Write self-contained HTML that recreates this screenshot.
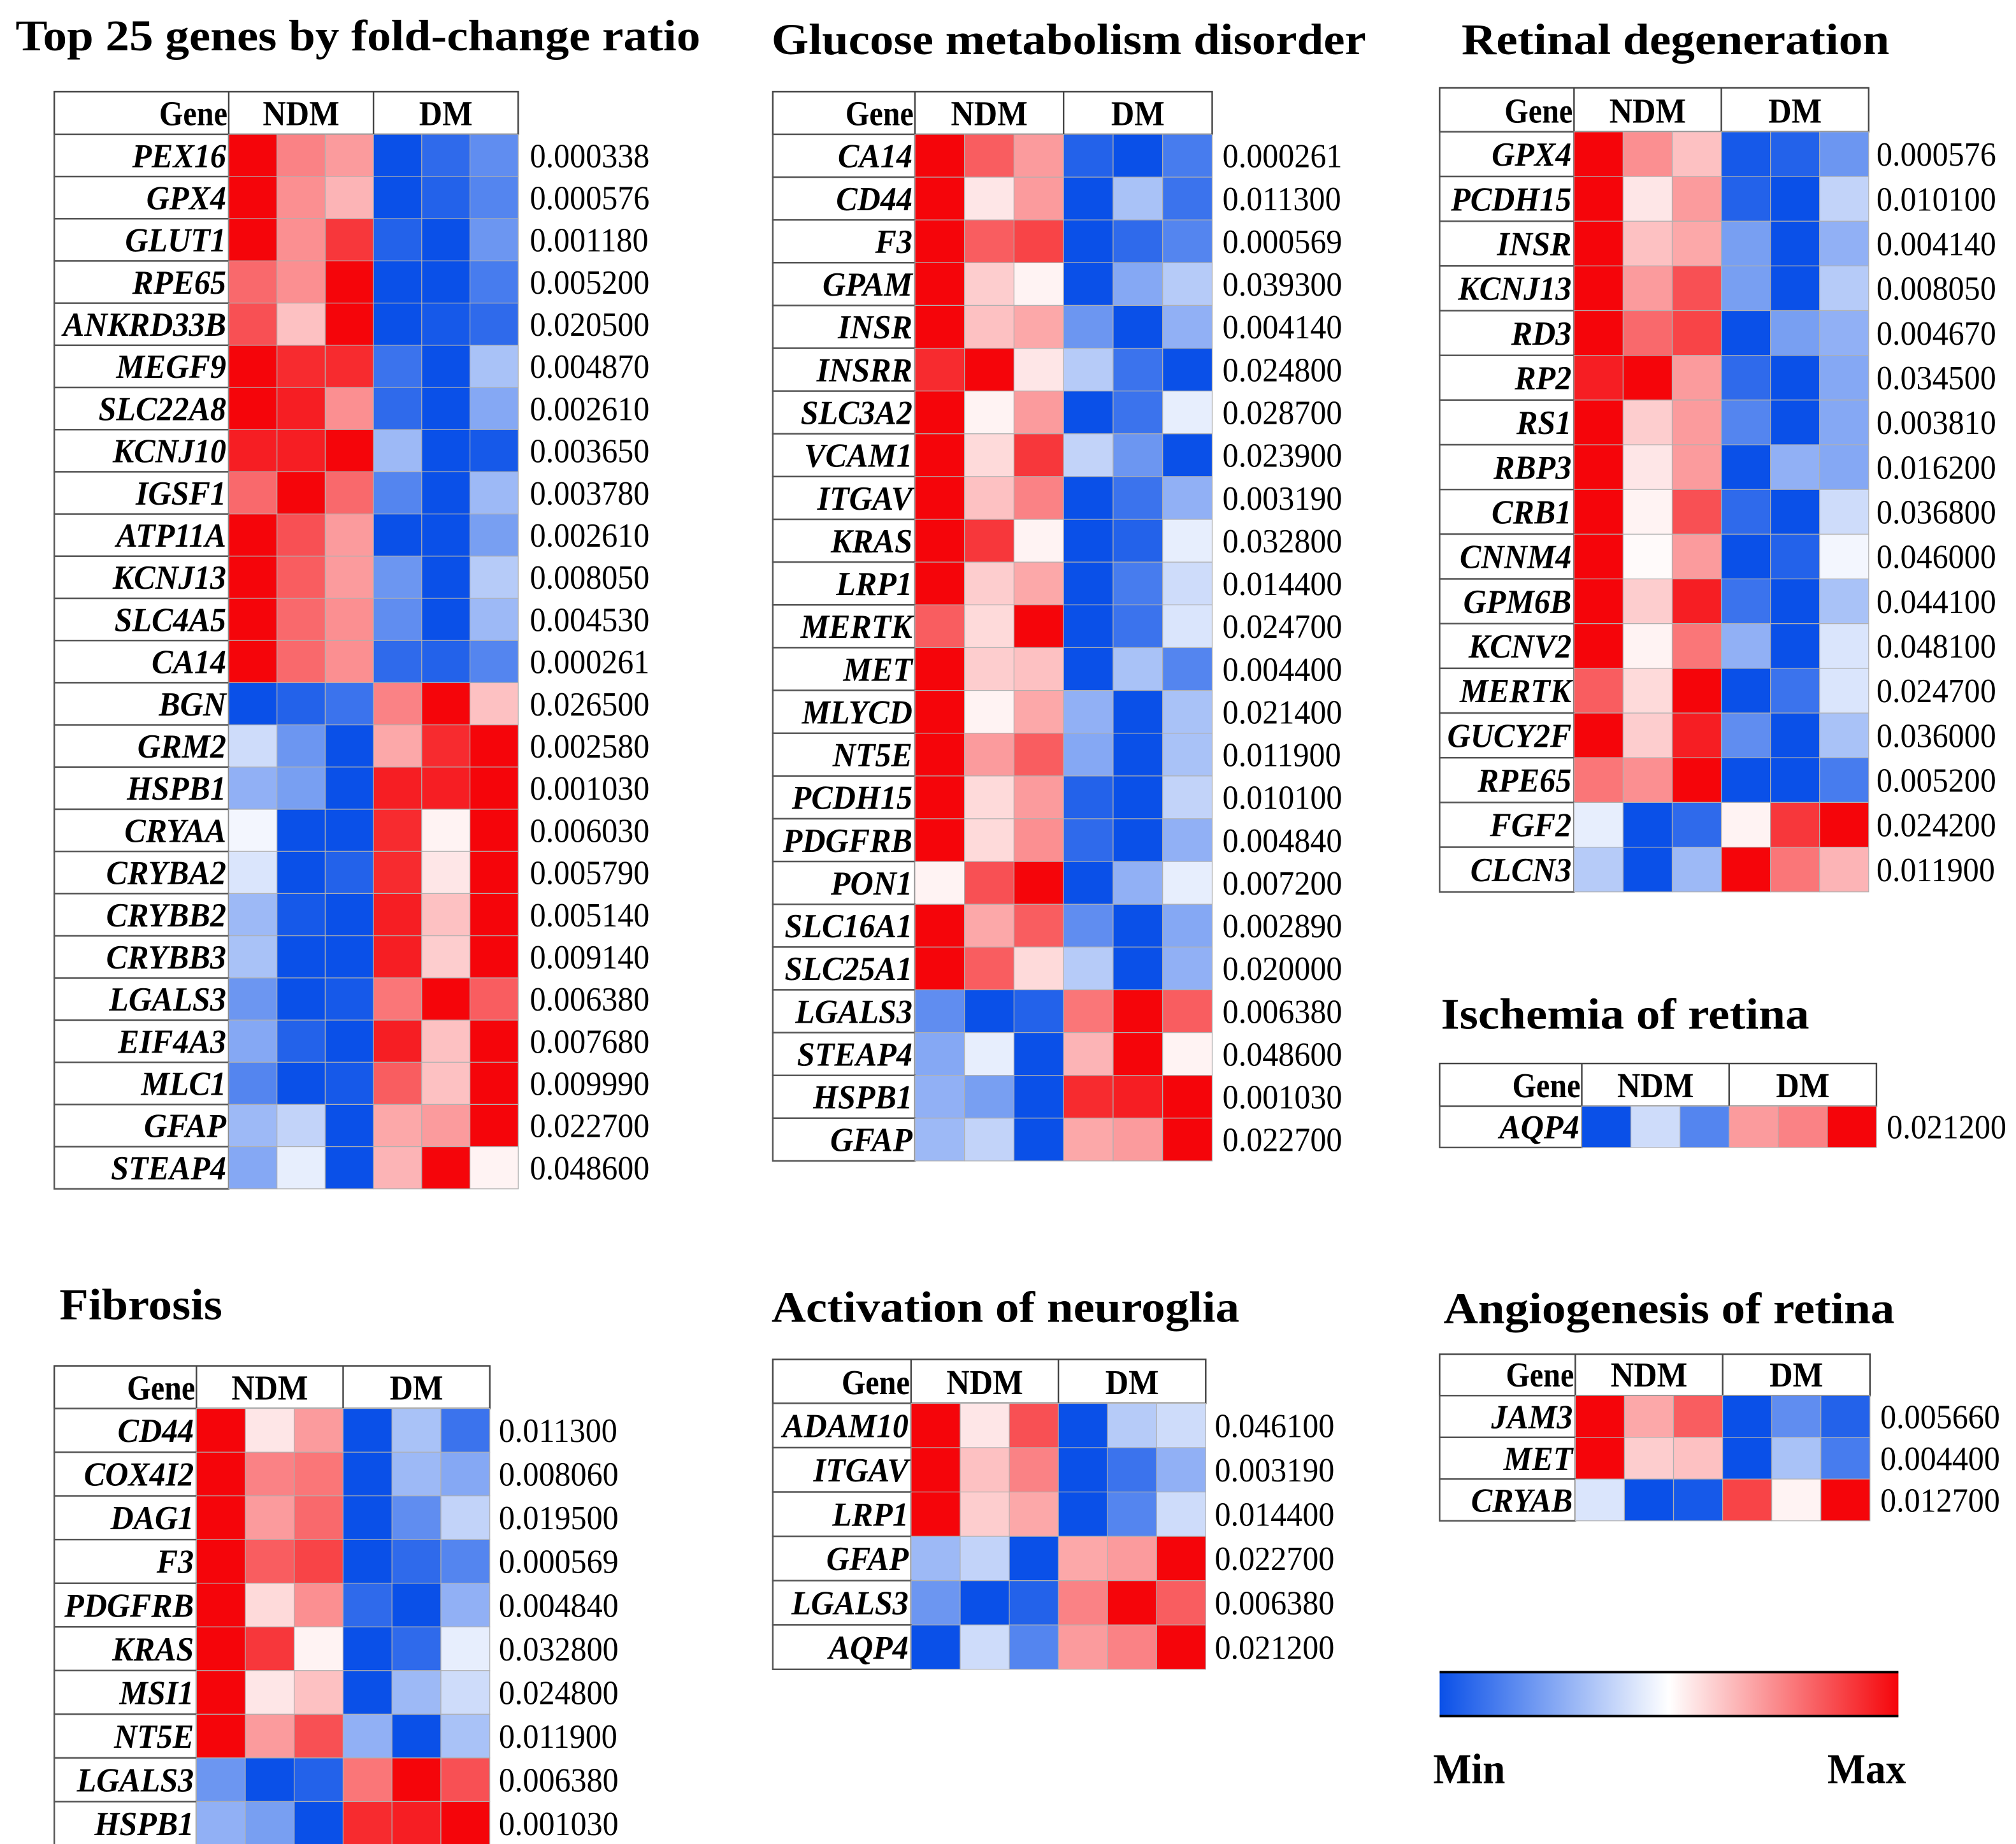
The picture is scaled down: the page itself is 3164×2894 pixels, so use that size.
<!DOCTYPE html>
<html><head><meta charset="utf-8">
<style>html,body{margin:0;padding:0;background:#fff;}svg{display:block;}</style>
</head><body>
<svg id="chart" xmlns="http://www.w3.org/2000/svg" width="3164" height="2894" viewBox="0 0 1560 1427" preserveAspectRatio="none">
<defs><linearGradient id="cb" x1="0" x2="1" y1="0" y2="0"><stop offset="0" stop-color="#0a50e8"/><stop offset="0.5" stop-color="#ffffff"/><stop offset="1" stop-color="#f5050a"/></linearGradient></defs>
</svg>
<script>
const genes1=["PEX16","GPX4","GLUT1","RPE65","ANKRD33B","MEGF9","SLC22A8","KCNJ10","IGSF1","ATP11A","KCNJ13","SLC4A5","CA14","BGN","GRM2","HSPB1","CRYAA","CRYBA2","CRYBB2","CRYBB3","LGALS3","EIF4A3","MLC1","GFAP","STEAP4"];
const pvals1=["0.000338","0.000576","0.001180","0.005200","0.020500","0.004870","0.002610","0.003650","0.003780","0.002610","0.008050","0.004530","0.000261","0.026500","0.002580","0.001030","0.006030","0.005790","0.005140","0.009140","0.006380","0.007680","0.009990","0.022700","0.048600"];
const values1=[[1,.5,.4,-1,-.85,-.65],[1,.45,.3,-1,-.9,-.7],[1,.45,.8,-.9,-1,-.6],[.6,.45,1,-1,-1,-.75],[.7,.25,1,-1,-.95,-.85],[1,.85,.85,-.8,-1,-.35],[1,.9,.45,-.85,-1,-.5],[.9,.9,1,-.4,-1,-.95],[.6,1,.6,-.7,-1,-.4],[1,.7,.4,-1,-1,-.55],[1,.65,.4,-.6,-1,-.3],[1,.6,.45,-.65,-1,-.4],[1,.6,.45,-.85,-.9,-.7],[-1,-.9,-.8,.5,1,.25],[-.2,-.6,-1,.35,.85,1],[-.45,-.55,-1,.9,.9,1],[-.05,-1,-1,.85,.05,1],[-.15,-1,-.9,.85,.1,1],[-.4,-.95,-1,.9,.25,1],[-.35,-1,-1,.9,.2,1],[-.6,-1,-.95,.55,1,.65],[-.5,-.9,-1,.9,.25,1],[-.7,-1,-.95,.65,.25,1],[-.4,-.25,-1,.35,.4,1],[-.5,-.1,-1,.3,1,.05]];

const genes2=["CA14","CD44","F3","GPAM","INSR","INSRR","SLC3A2","VCAM1","ITGAV","KRAS","LRP1","MERTK","MET","MLYCD","NT5E","PCDH15","PDGFRB","PON1","SLC16A1","SLC25A1","LGALS3","STEAP4","HSPB1","GFAP"];
const pvals2=["0.000261","0.011300","0.000569","0.039300","0.004140","0.024800","0.028700","0.023900","0.003190","0.032800","0.014400","0.024700","0.004400","0.021400","0.011900","0.010100","0.004840","0.007200","0.002890","0.020000","0.006380","0.048600","0.001030","0.022700"];
const values2=[[1,.65,.4,-.9,-1,-.75],[1,.1,.4,-1,-.35,-.8],[1,.65,.75,-1,-.85,-.7],[1,.2,.05,-1,-.5,-.3],[1,.25,.35,-.6,-1,-.45],[.85,1,.1,-.3,-.8,-1],[1,.05,.4,-1,-.8,-.1],[1,.15,.8,-.25,-.6,-1],[1,.25,.5,-1,-.8,-.45],[1,.8,.05,-1,-.9,-.1],[1,.2,.35,-1,-.75,-.2],[.65,.15,1,-1,-.8,-.15],[1,.2,.25,-1,-.35,-.7],[1,.05,.35,-.45,-1,-.35],[1,.4,.65,-.5,-1,-.35],[1,.15,.4,-.9,-1,-.25],[1,.15,.45,-.85,-1,-.45],[.05,.7,1,-1,-.45,-.1],[1,.35,.65,-.65,-1,-.5],[1,.65,.15,-.3,-1,-.45],[-.65,-1,-.9,.55,1,.65],[-.5,-.1,-1,.3,1,.05],[-.45,-.55,-1,.85,.9,1],[-.4,-.25,-1,.35,.4,1]];

const genes3=["GPX4","PCDH15","INSR","KCNJ13","RD3","RP2","RS1","RBP3","CRB1","CNNM4","GPM6B","KCNV2","MERTK","GUCY2F","RPE65","FGF2","CLCN3"];
const pvals3=["0.000576","0.010100","0.004140","0.008050","0.004670","0.034500","0.003810","0.016200","0.036800","0.046000","0.044100","0.048100","0.024700","0.036000","0.005200","0.024200","0.011900"];
const values3=[[1,.45,.25,-.95,-.9,-.6],[1,.1,.4,-.9,-1,-.25],[1,.25,.35,-.55,-1,-.45],[1,.4,.7,-.55,-1,-.3],[1,.6,.75,-1,-.55,-.45],[.9,1,.4,-.85,-1,-.5],[1,.2,.4,-.7,-1,-.5],[1,.1,.4,-1,-.45,-.5],[1,.05,.7,-.85,-1,-.2],[1,.02,.4,-1,-.9,-.05],[1,.2,.9,-.8,-1,-.35],[1,.05,.55,-.45,-1,-.15],[.65,.15,1,-1,-.8,-.15],[1,.2,.9,-.65,-1,-.35],[.55,.45,1,-1,-1,-.75],[-.1,-1,-.85,.05,.8,1],[-.3,-1,-.4,1,.55,.3]];

const genes4=["AQP4"];
const pvals4=["0.021200"];
const values4=[[-1,-.2,-.7,.4,.5,1]];

const genes5=["CD44","COX4I2","DAG1","F3","PDGFRB","KRAS","MSI1","NT5E","LGALS3","HSPB1"];
const pvals5=["0.011300","0.008060","0.019500","0.000569","0.004840","0.032800","0.024800","0.011900","0.006380","0.001030"];
const values5=[[1,.1,.4,-1,-.35,-.8],[1,.5,.55,-1,-.4,-.5],[1,.4,.6,-1,-.65,-.25],[1,.65,.75,-1,-.85,-.7],[1,.15,.45,-.85,-1,-.45],[1,.8,.05,-1,-.85,-.1],[1,.1,.25,-1,-.4,-.2],[1,.4,.7,-.45,-1,-.35],[-.6,-1,-.9,.55,1,.7],[-.45,-.55,-1,.85,.9,1]];

const genes6=["ADAM10","ITGAV","LRP1","GFAP","LGALS3","AQP4"];
const pvals6=["0.046100","0.003190","0.014400","0.022700","0.006380","0.021200"];
const values6=[[1,.1,.7,-1,-.3,-.2],[1,.25,.5,-1,-.8,-.45],[1,.2,.35,-1,-.7,-.2],[-.4,-.25,-1,.35,.4,1],[-.6,-1,-.9,.5,1,.65],[-1,-.2,-.7,.4,.5,1]];

const genes7=["JAM3","MET","CRYAB"];
const pvals7=["0.005660","0.004400","0.012700"];
const values7=[[1,.35,.65,-1,-.65,-.9],[1,.2,.25,-1,-.35,-.75],[-.15,-1,-.95,.75,.05,1]];

const svg=document.getElementById('chart');
const NS="http://www.w3.org/2000/svg";
function mk(tag,attrs,parent){const e=document.createElementNS(NS,tag);for(const k in attrs)e.setAttribute(k,attrs[k]);(parent||svg).appendChild(e);return e;}
function txt(str,x,y,size,weight,style,anchor,sx,parent){
  const t=mk('text',{transform:`translate(${x},${y}) scale(${sx},1)`,'font-family':'"Liberation Serif", serif','font-size':size,'font-weight':weight,'font-style':style,'text-anchor':anchor,fill:'#000'},parent);
  t.textContent=str;return t;}
function color(v){
  const B=[10,80,232],R=[245,5,10],W=[255,255,255];
  const e=v<0?B:R,a=Math.min(1,Math.abs(v));
  return `rgb(${W.map((w,i)=>Math.round(w+(e[i]-w)*a)).join(',')})`;}

const panels=[
 {genes:genes1,vals:values1,p:pvals1,title:"Top 25 genes by fold-change ratio",tx:12,ty:39,tw:530,x0:42,gx:177,cx:401,hy:71,ry:104,rh:32.64,vx:410,name:'top25'},
 {genes:genes2,vals:values2,p:pvals2,title:"Glucose metabolism disorder",tx:597,ty:42,tw:460,x0:598,gx:708,cx:938,hy:71,ry:104,rh:33.1,vx:946,name:'glucose'},
 {genes:genes3,vals:values3,p:pvals3,title:"Retinal degeneration",tx:1131,ty:42,tw:331,x0:1114,gx:1218,cx:1446,hy:68,ry:102,rh:34.6,vx:1452,name:'retinal'},
 {genes:genes4,vals:values4,p:pvals4,title:"Ischemia of retina",tx:1115,ty:796,tw:285,x0:1114,gx:1224,cx:1452,hy:823,ry:856,rh:32,vx:1460,name:'ischemia'},
 {genes:genes5,vals:values5,p:pvals5,title:"Fibrosis",tx:46,ty:1021,tw:126,x0:42,gx:152,cx:379,hy:1057,ry:1090,rh:33.8,vx:386,name:'fibrosis'},
 {genes:genes6,vals:values6,p:pvals6,title:"Activation of neuroglia",tx:597,ty:1023,tw:362,x0:598,gx:705,cx:933,hy:1052,ry:1086,rh:34.3,vx:940,name:'neuroglia'},
 {genes:genes7,vals:values7,p:pvals7,title:"Angiogenesis of retina",tx:1117,ty:1024,tw:349,x0:1114,gx:1219,cx:1447,hy:1048,ry:1080,rh:32.3,vx:1455,name:'angiogenesis'}];

panels.forEach(P=>{
  const g=mk('g',{});
  
  
  const tt=mk('text',{x:P.tx,y:P.ty,'font-family':'"Liberation Serif", serif','font-size':34,'font-weight':'bold',fill:'#000',textLength:P.tw,lengthAdjust:'spacingAndGlyphs'},g);
  tt.textContent=P.title;
  
  
  const n=P.genes.length, cw=(P.cx-P.gx)/6;
  const x=i=>P.gx+i*cw, y=r=>P.ry+r*P.rh;
  mk('rect',{x:P.x0,y:P.hy,width:P.cx-P.x0,height:P.ry-P.hy,fill:'#fff',stroke:'#444','stroke-width':1.2},g);
  mk('line',{x1:P.gx,x2:P.gx,y1:P.hy,y2:P.ry,stroke:'#444','stroke-width':1.2},g);
  mk('line',{x1:x(3),x2:x(3),y1:P.hy,y2:P.ry,stroke:'#444','stroke-width':1.2},g);
  const hb=P.ry-7;
  let h=txt('Gene',P.gx-1,hb,27,'bold','normal','end',0.88,g);
  
  h=txt('NDM',(x(0)+x(3))/2,hb,27,'bold','normal','middle',0.92,g);
  
  h=txt('DM',(x(3)+x(6))/2,hb,27,'bold','normal','middle',0.92,g);
  
  P.genes.forEach((gn,r)=>{
    const gc=mk('rect',{x:P.x0,y:y(r),width:P.gx-P.x0,height:P.rh,fill:'#fff',stroke:'#555','stroke-width':1.2},g);
    
    
    const lab=txt(gn,P.gx-2,y(r)+P.rh/2+9,26,'bold','italic','end',0.95,g);
    
    
    P.vals[r].forEach((v,c)=>{
      const cell=mk('rect',{x:x(c),y:y(r),width:cw,height:P.rh,fill:color(v),stroke:'#b0b0b0','stroke-width':0.6},g);
      
      
    });
    const pv=txt(P.p[r],P.vx,y(r)+P.rh/2+9,26,'normal','normal','start',0.95,g);
    
    
  });
});
const cbg=mk('g',{});


mk('rect',{x:1114,y:1294,width:355,height:34,fill:'url(#cb)'},cbg);
mk('line',{x1:1114,x2:1469,y1:1294,y2:1294,stroke:'#000','stroke-width':2},cbg);
mk('line',{x1:1114,x2:1469,y1:1328,y2:1328,stroke:'#000','stroke-width':2},cbg);
let m=txt('Min',1109,1380,33,'bold','normal','start',0.95,cbg);

m=txt('Max',1414,1380,33,'bold','normal','start',0.95,cbg);

</script>
</body></html>
